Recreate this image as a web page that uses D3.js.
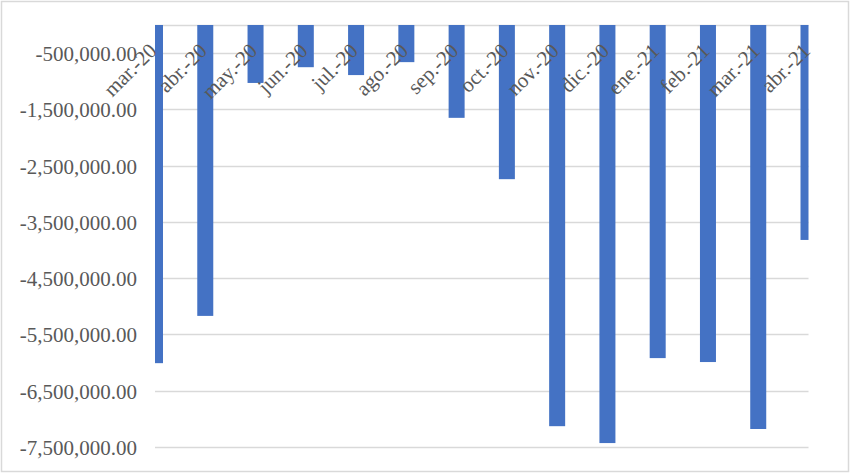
<!DOCTYPE html>
<html>
<head>
<meta charset="utf-8">
<script src="https://cdnjs.cloudflare.com/ajax/libs/d3/7.8.5/d3.min.js"></script>
<style>
  body { margin: 0; background: #fff; }
  .tick-label { font-family: "Liberation Serif", "Times New Roman", serif; font-size: 21px; fill: #595959; }
</style>
</head>
<body>
<div class="chart"></div>
<script>
// Monthly values (negative)
var months = ["mar.-20", "abr.-20", "may.-20", "jun.-20", "jul.-20", "ago.-20", "sep.-20",
  "oct.-20", "nov.-20", "dic.-20", "ene.-21", "feb.-21", "mar.-21", "abr.-21"];
var values = [-6010000, -5170000, -1030000, -750000, -890000, -660000, -1650000,
  -2740000, -7130000, -7430000, -5920000, -5990000, -7180000, -3820000];
var yTicks = [-500000, -1500000, -2500000, -3500000, -4500000, -5500000, -6500000, -7500000];

var svgWidth = 850;
var svgHeight = 473;

// plot area inside the chart frame
var plot = { left: 155, right: 808.5, top: 25, bottom: 447 };

var svg = d3
  .select(".chart")
  .append("svg")
  .attr("width", svgWidth)
  .attr("height", svgHeight);

// chart frame
svg.append("rect")
  .attr("x", 1.5)
  .attr("y", 1.5)
  .attr("width", svgWidth - 3)
  .attr("height", svgHeight - 3)
  .attr("fill", "#fff")
  .attr("stroke", "#d9d9d9")
  .attr("stroke-width", 1.5);

// "on tick marks" style: first and last bars sit on the plot edges
var xScale = d3.scalePoint().domain(months).range([plot.left, plot.right]);
var yScale = d3.scaleLinear().domain([-7500000, 0]).range([plot.bottom, plot.top]);

// plain hyphen for the minus sign, like the original
var locale = d3.formatLocale({ decimal: ".", thousands: ",", grouping: [3], currency: ["", ""], minus: "-" });
var fmt = locale.format(",.2f");
var barWidth = 16;

// gridlines
svg.append("g")
  .selectAll("line")
  .data(yTicks.concat([0]))
  .enter()
  .append("line")
  .attr("x1", plot.left)
  .attr("x2", plot.right)
  .attr("y1", function(d) { return Math.round(yScale(d)) + 0.5; })
  .attr("y2", function(d) { return Math.round(yScale(d)) + 0.5; })
  .attr("stroke", "#d9d9d9")
  .attr("stroke-width", 1.3);

// y axis labels
var leftAxis = d3.axisLeft(yScale).tickValues(yTicks).tickFormat(fmt).tickSize(0).tickPadding(18);
var yAxis = svg.append("g")
  .attr("transform", "translate(" + plot.left + ",0)")
  .call(leftAxis);
yAxis.select(".domain").remove();
yAxis.selectAll("text")
  .attr("class", "tick-label")
  .attr("dy", "0.35em")
  .attr("font-family", null)
  .attr("font-size", null)
  .attr("fill", null);
yAxis.attr("font-family", null).attr("font-size", null);

// bars, clipped to the plot area
svg.append("clipPath")
  .attr("id", "plot-clip")
  .append("rect")
  .attr("x", plot.left)
  .attr("y", plot.top)
  .attr("width", plot.right - plot.left)
  .attr("height", plot.bottom - plot.top);

svg.append("g")
  .attr("clip-path", "url(#plot-clip)")
  .selectAll("rect")
  .data(values)
  .enter()
  .append("rect")
  .attr("x", function(d, i) { return xScale(months[i]) - barWidth / 2; })
  .attr("y", yScale(0))
  .attr("width", barWidth)
  .attr("height", function(d) { return yScale(d) - yScale(0); })
  .attr("fill", "#4472c4");

// category labels at the top axis, rotated
svg.append("g")
  .selectAll("text")
  .data(months)
  .enter()
  .append("text")
  .attr("class", "tick-label")
  .attr("text-anchor", "end")
  .attr("transform", function(d) {
    return "translate(" + (xScale(d) + 3) + "," + (plot.top + 27) + ") rotate(-45)";
  })
  .text(function(d) { return d; });
</script>
</body>
</html>
